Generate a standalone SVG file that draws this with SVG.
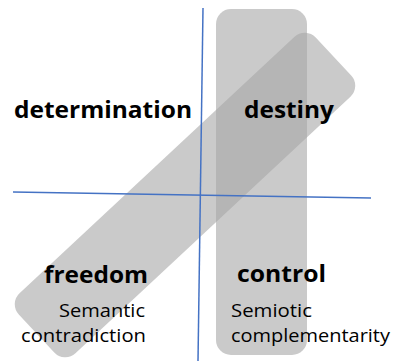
<svg xmlns="http://www.w3.org/2000/svg" width="396" height="361" viewBox="0 0 396 361">
<style>
.band{fill:#a6a6a6;fill-opacity:0.6}
.axis{stroke:#4472c4;stroke-width:1.5;fill:none}
.big{font-family:"Open Sans","Noto Sans",sans-serif;font-weight:bold;font-size:24px;fill:#000}
.small{font-family:"Open Sans","Noto Sans",sans-serif;font-size:18.5px;fill:#000}
</style>
<rect width="396" height="361" fill="#fff"/>
<g id="diagonal-band">
<rect class="band" x="-203" y="-41" width="406" height="82" rx="15" transform="translate(185,195) rotate(-43)"/>
</g>
<g id="vertical-band">
<rect class="band" x="216" y="9" width="91" height="346" rx="15"/>
</g>
<g id="axes">
<line class="axis" x1="203" y1="8" x2="198" y2="361"/>
<line class="axis" x1="13" y1="192" x2="371" y2="198"/>
</g>
<g id="determination"><text class="big" x="14" y="118" textLength="178" lengthAdjust="spacingAndGlyphs">determination</text></g>
<g id="destiny"><text class="big" x="244" y="118" textLength="90" lengthAdjust="spacingAndGlyphs">destiny</text></g>
<g id="freedom"><text class="big" x="44" y="283" textLength="104" lengthAdjust="spacingAndGlyphs">freedom</text>
<text class="small" x="59" y="317" textLength="86" lengthAdjust="spacingAndGlyphs">Semantic</text>
<text class="small" x="21" y="342" textLength="125" lengthAdjust="spacingAndGlyphs">contradiction</text></g>
<g id="control"><text class="big" x="237" y="282" textLength="89" lengthAdjust="spacingAndGlyphs">control</text>
<text class="small" x="231" y="317" textLength="81" lengthAdjust="spacingAndGlyphs">Semiotic</text>
<text class="small" x="231" y="342" textLength="159" lengthAdjust="spacingAndGlyphs">complementarity</text></g>
</svg>
